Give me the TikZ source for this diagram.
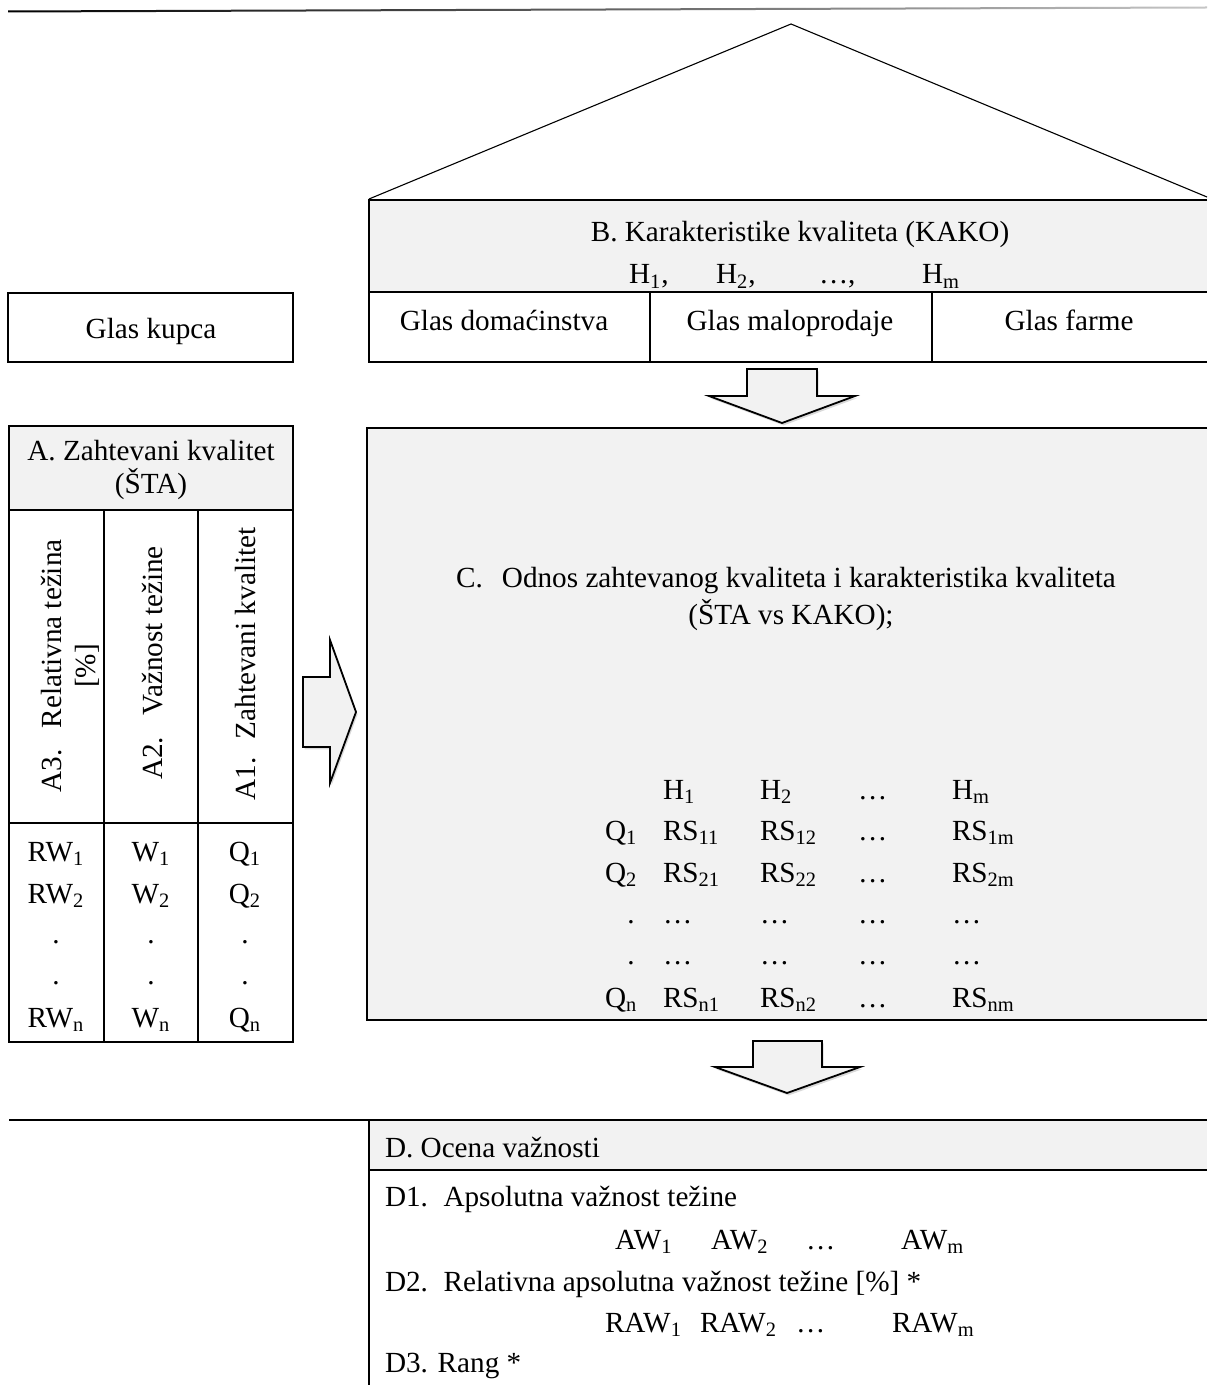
\documentclass[tikz,border=0pt]{standalone}
\usepackage{fontspec}
\setmainfont{Liberation Serif}
\usetikzlibrary{shadows}
\definecolor{boxgray}{HTML}{F2F2F2}
\begin{document}
\begin{tikzpicture}[x=0.5pt,y=-0.5pt,
  every node/.style={inner sep=0pt, outer sep=0pt, font=\fontsize{14.6}{17}\selectfont},
  frame/.style={draw=black, line width=1.4pt},
  thinline/.style={draw=black, line width=0.55pt},
  blockarrow/.style={draw=black, line width=0.9pt, fill=boxgray, line join=miter,
     drop shadow={opacity=0.3, shadow xshift=0.8pt, shadow yshift=-1.2pt}},
  tc/.style={anchor=base},
  tl/.style={anchor=base west},
  vt/.style={anchor=base, rotate=90},
]
\useasboundingbox (0,0) rectangle (1207,1385);

% top rule
\shade[left color=black, right color=gray!45] (8,10.5) -- (1207,6.5) -- (1207,8.5) -- (8,12.5) -- cycle;

% roof
\draw[thinline] (369,199) -- (791,24) -- (1207,197);

% ---------- B box ----------
\fill[boxgray] (369,200) rectangle (1207,292);
\draw[frame] (1207,200) -- (369,200) -- (369,362) -- (1207,362);
\draw[frame] (369,292) -- (1207,292);
\draw[frame] (650,292) -- (650,362);
\draw[frame] (932,292) -- (932,362);
\node[tc] (btitle) at (800,242) {B. Karakteristike kvaliteta (KAKO)};
\node[tl] (bh1) at (629,284) {H\textsubscript{1},};
\node[tl] (bh2) at (716,284) {H\textsubscript{2},};
\node[tl] (bh3) at (819,284) {\ldots,};
\node[tl] (bhm) at (922,284) {H\textsubscript{m}};
\node[tc] (vdom) at (504,331) {Glas domaćinstva};
\node[tc] (vmal) at (790,331) {Glas maloprodaje};
\node[tc] (vfar) at (1069,331) {Glas farme};

% ---------- Glas kupca ----------
\draw[frame] (8,293) rectangle (293,362);
\node[tc] (kupac) at (151,338) {Glas kupca};

% ---------- A box ----------
\fill[boxgray] (9,426) rectangle (293,510);
\draw[frame] (9,426) rectangle (293,1042);
\draw[frame] (9,510) -- (293,510);
\draw[frame] (9,823) -- (293,823);
\draw[frame] (104,510) -- (104,1042);
\draw[frame] (198,510) -- (198,1042);
\node[tc] (atitle) at (151,460) {A. Zahtevani kvalitet};
\node[tc] (atitleb) at (151,493) {(ŠTA)};
\node[vt] (a3a) at (61,666) {A3.\hspace{0.4em} Relativna težina};
\node[vt] (a3b) at (95,666) {[\%]};
\node[vt] (a2) at (162,663) {A2.\hspace{0.4em} Važnost težine};
\node[vt] (a1) at (255,664) {A1.\hspace{0.3em} Zahtevani kvalitet};
% rows
\node[tc] (rw1) at (56,861) {RW\textsubscript{1}};
\node[tc] (rw2) at (56,903) {RW\textsubscript{2}};
\node[tc] (rwd1) at (56,943) {.};
\node[tc] (rwd2) at (56,984) {.};
\node[tc] (rwn) at (56,1027) {RW\textsubscript{n}};
\node[tc] (w1) at (151,861) {W\textsubscript{1}};
\node[tc] (w2) at (151,903) {W\textsubscript{2}};
\node[tc] (wd1) at (151,943) {.};
\node[tc] (wd2) at (151,984) {.};
\node[tc] (wn) at (151,1027) {W\textsubscript{n}};
\node[tc] (q1) at (245,861) {Q\textsubscript{1}};
\node[tc] (q2) at (245,903) {Q\textsubscript{2}};
\node[tc] (qd1) at (245,943) {.};
\node[tc] (qd2) at (245,984) {.};
\node[tc] (qn) at (245,1027) {Q\textsubscript{n}};

% ---------- arrows ----------
\draw[blockarrow] (747,369) -- (817,369) -- (817,396) -- (855,396) -- (782,423) -- (709,396) -- (747,396) -- cycle;
\draw[blockarrow] (303,677) -- (330,677) -- (330,640) -- (356,712) -- (330,783) -- (330,747) -- (303,747) -- cycle;

% ---------- C box ----------
\fill[boxgray] (367,428) rectangle (1207,1020);
\draw[frame] (1207,428) -- (367,428) -- (367,1020) -- (1207,1020);
\node[tc] (ctitle) at (786,587) {C.\hspace{0.4em} Odnos zahtevanog kvaliteta i karakteristika kvaliteta};
\node[tc] (ctitleb) at (791,624) {(ŠTA vs KAKO);};
% matrix
\node[tl] (mh1) at (663,799) {H\textsubscript{1}};
\node[tl] (mh2) at (760,799) {H\textsubscript{2}};
\node[tl] (mh3) at (858,799) {\ldots};
\node[tl] (mhm) at (952,799) {H\textsubscript{m}};
\node[tl] (mq1) at (605,840) {Q\textsubscript{1}};
\node[tl] (m11) at (663,840) {RS\textsubscript{11}};
\node[tl] (m12) at (760,840) {RS\textsubscript{12}};
\node[tl] (m13) at (858,840) {\ldots};
\node[tl] (m1m) at (952,840) {RS\textsubscript{1m}};
\node[tl] (mq2) at (605,882) {Q\textsubscript{2}};
\node[tl] (m21) at (663,882) {RS\textsubscript{21}};
\node[tl] (m22) at (760,882) {RS\textsubscript{22}};
\node[tl] (m23) at (858,882) {\ldots};
\node[tl] (m2m) at (952,882) {RS\textsubscript{2m}};
\node[tc] (mqd1) at (631,923) {.};
\node[tl] (md11) at (663,923) {\ldots};
\node[tl] (md12) at (760,923) {\ldots};
\node[tl] (md13) at (858,923) {\ldots};
\node[tl] (md14) at (952,923) {\ldots};
\node[tc] (mqd2) at (631,964) {.};
\node[tl] (md21) at (663,964) {\ldots};
\node[tl] (md22) at (760,964) {\ldots};
\node[tl] (md23) at (858,964) {\ldots};
\node[tl] (md24) at (952,964) {\ldots};
\node[tl] (mqn) at (605,1007) {Q\textsubscript{n}};
\node[tl] (mn1) at (663,1007) {RS\textsubscript{n1}};
\node[tl] (mn2) at (760,1007) {RS\textsubscript{n2}};
\node[tl] (mn3) at (858,1007) {\ldots};
\node[tl] (mnm) at (952,1007) {RS\textsubscript{nm}};

\draw[blockarrow] (753,1041) -- (822,1041) -- (822,1067) -- (860,1067) -- (787,1093) -- (715,1067) -- (753,1067) -- cycle;

% ---------- D area ----------
\fill[boxgray] (369,1120) rectangle (1207,1170);
\draw[frame] (9,1120) -- (1207,1120);
\draw[frame] (369,1170) -- (1207,1170);
\draw[frame] (369,1120) -- (369,1385);
\node[tl] (dtitle) at (385,1157) {D. Ocena važnosti};
\node[tl] (d1) at (385,1206) {D1.\hspace{0.2em} Apsolutna važnost težine};
\node[tl] (aw1) at (615,1249) {AW\textsubscript{1}};
\node[tl] (aw2) at (711,1249) {AW\textsubscript{2}};
\node[tl] (aw3) at (806,1249) {\ldots};
\node[tl] (awm) at (901,1249) {AW\textsubscript{m}};
\node[tl] (d2) at (385,1291) {D2.\hspace{0.2em} Relativna apsolutna važnost težine [\%] *};
\node[tl] (raw1) at (605,1332) {RAW\textsubscript{1}};
\node[tl] (raw2) at (700,1332) {RAW\textsubscript{2}};
\node[tl] (raw3) at (796,1332) {\ldots};
\node[tl] (rawm) at (892,1332) {RAW\textsubscript{m}};
\node[tl] (d3) at (385,1372) {D3. Rang *};
\end{tikzpicture}
\end{document}
